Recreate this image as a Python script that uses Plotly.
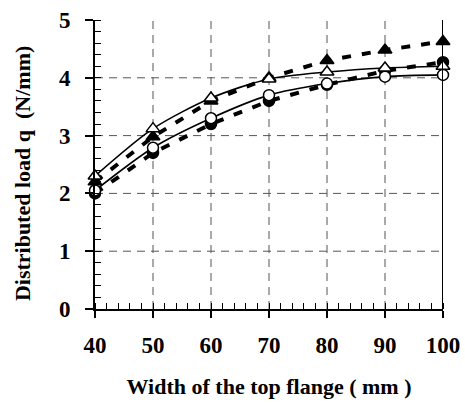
import plotly.graph_objects as go

width_mm = [40, 50, 60, 70, 80, 90, 100]
open_tri = [2.30, 3.12, 3.65, 3.98, 4.10, 4.17, 4.20]
filled_tri = [2.20, 2.98, 3.60, 4.00, 4.30, 4.48, 4.63]
open_circ = [2.05, 2.79, 3.30, 3.70, 3.90, 4.02, 4.05]
filled_circ = [2.00, 2.70, 3.20, 3.60, 3.88, 4.12, 4.27]

x_grid = [50, 60, 70, 80, 90]
y_grid = [1, 2, 3, 4]

FONT = "Liberation Serif"

fig = go.Figure()

def add(y, symbol, filled, dashed):
    fig.add_trace(go.Scatter(
        x=width_mm, y=y, mode="lines+markers", cliponaxis=False,
        line=dict(color="black", width=4 if dashed else 1.6,
                  dash="9px,11px" if dashed else "solid",
                  shape="linear" if dashed else "spline", smoothing=0.8),
        marker=dict(symbol=symbol, size=12 if "triangle" in symbol else 11,
                    color="black" if filled else "white",
                    line=dict(color="black", width=1.5)),
        showlegend=False))

add(filled_circ, "circle", True, True)
add(open_circ, "circle", False, False)
add(filled_tri, "triangle-up", True, True)
add(open_tri, "triangle-up", False, False)

GRID = dict(color="#555555", width=1, dash="8px,6px")
shapes = []
for gx in x_grid:
    shapes.append(dict(type="line", xref="x", yref="y", x0=gx, x1=gx, y0=0, y1=5,
                       line=GRID, layer="below"))
for gy in y_grid:
    shapes.append(dict(type="line", xref="x", yref="y", x0=40, x1=100, y0=gy, y1=gy,
                       line=GRID, layer="below"))
shapes.append(dict(type="line", xref="x", yref="y", x0=100, x1=100, y0=0, y1=5,
                   line=dict(color="black", width=2), layer="above"))

fig.update_layout(
    width=465, height=404,
    margin=dict(l=95, r=22, t=20, b=95),
    plot_bgcolor="white", paper_bgcolor="white",
    shapes=shapes,
    xaxis=dict(range=[40, 100], tickvals=[40, 50, 60, 70, 80, 90, 100], automargin=False,
               showgrid=False, zeroline=False, showline=True, linecolor="black", linewidth=2,
               ticks="outside", ticklen=7, tickwidth=1.5, tickcolor="black",
               ticklabelstandoff=7,
               tickfont=dict(family=FONT, size=23, color="black", weight="bold"),
               minor=dict(dtick=2, ticks="inside", ticklen=6, tickwidth=1, tickcolor="black", showgrid=False),
               title=dict(text="Width of the top flange ( mm )", standoff=22,
                          font=dict(family=FONT, size=22, color="black", weight="bold"))),
    yaxis=dict(range=[0, 5], tickvals=[0, 1, 2, 3, 4, 5], automargin=False,
               showgrid=False, zeroline=False, showline=True, linecolor="black", linewidth=2,
               ticks="outside", ticklen=8, tickwidth=1.5, tickcolor="black",
               ticklabelstandoff=10,
               tickfont=dict(family=FONT, size=23, color="black", weight="bold"),
               minor=dict(dtick=0.2, ticks="inside", ticklen=6, tickwidth=1, tickcolor="black", showgrid=False)),
    annotations=[dict(text="Distributed load q  (N/mm)", xref="paper", yref="paper",
                      x=-0.208, y=0.5, xanchor="center", yanchor="middle",
                      showarrow=False, textangle=-90, yshift=-9,
                      font=dict(family=FONT, size=22, color="black", weight="bold"))],
)

fig.write_html("out.html")
